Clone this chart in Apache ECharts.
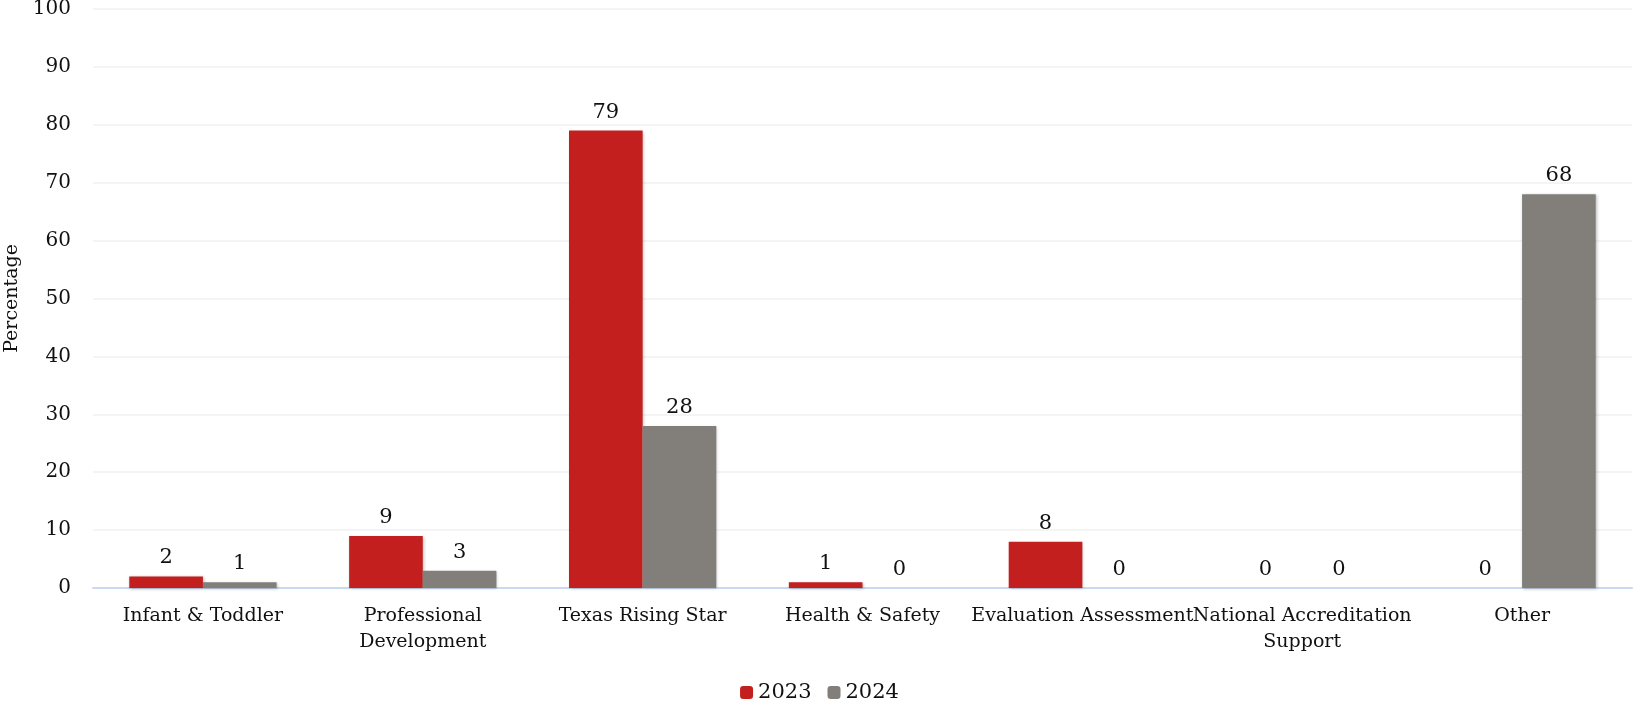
<!DOCTYPE html>
<html><head><meta charset="utf-8">
<script src="https://cdn.jsdelivr.net/npm/echarts@6/dist/echarts.min.js"></script>
<style>html,body{margin:0;padding:0;background:#fff}#c{width:1639px;height:702px}</style>
</head><body><div id="c"></div>
<script>
const categories = ['Infant & Toddler', 'Professional\nDevelopment', 'Texas Rising Star', 'Health & Safety', 'Evaluation Assessment', 'National Accreditation\nSupport', 'Other'];
const values2023 = [2, 9, 79, 1, 8, 0, 0];
const values2024 = [1, 3, 28, 0, 0, 0, 68];
const yTicks = { min: 0, max: 100, interval: 10 };
const FONT = 'DejaVu Serif';
const chart = echarts.init(document.getElementById('c'));
const lbl = { show: true, position: 'top', distance: 8, color: '#111', fontFamily: FONT, fontSize: 21 };
chart.setOption({
  animation: false,
  textStyle: { fontFamily: FONT },
  grid: { left: 93, right: 7, top: 9, bottom: 114, outerBoundsMode: 'none', containLabel: false },
  legend: {
    top: 677, left: 'center', itemWidth: 13, itemHeight: 13, itemGap: 16,
    textStyle: { fontFamily: FONT, fontSize: 21, color: '#111' },
    data: ['2023', '2024']
  },
  xAxis: {
    type: 'category', data: categories,
    axisLine: { lineStyle: { color: '#c9d9ee', width: 2 } },
    axisTick: { show: false },
    axisLabel: { color: '#111', fontFamily: FONT, fontSize: 19, margin: 15, lineHeight: 26, interval: 0 }
  },
  yAxis: {
    type: 'value', min: yTicks.min, max: yTicks.max, interval: yTicks.interval,
    name: 'Percentage', nameLocation: 'middle', nameGap: 70, nameRotate: 90,
    nameTextStyle: { color: '#111', fontFamily: FONT, fontSize: 19 },
    axisLine: { show: false }, axisTick: { show: false },
    axisLabel: { color: '#111', fontFamily: FONT, fontSize: 20, margin: 22 },
    splitLine: { lineStyle: { color: '#f1f1f1', width: 1.5 } }
  },
  series: [
    { name: '2023', type: 'bar', data: values2023, barGap: '0%', barCategoryGap: '33%',
      itemStyle: { color: '#c41f1f', shadowColor: 'rgba(0,0,0,0.25)', shadowBlur: 3, shadowOffsetX: 1, shadowOffsetY: 1 }, label: lbl },
    { name: '2024', type: 'bar', data: values2024,
      itemStyle: { color: '#827f7a', shadowColor: 'rgba(0,0,0,0.25)', shadowBlur: 3, shadowOffsetX: 1, shadowOffsetY: 1 }, label: lbl }
  ]
});
</script></body></html>
